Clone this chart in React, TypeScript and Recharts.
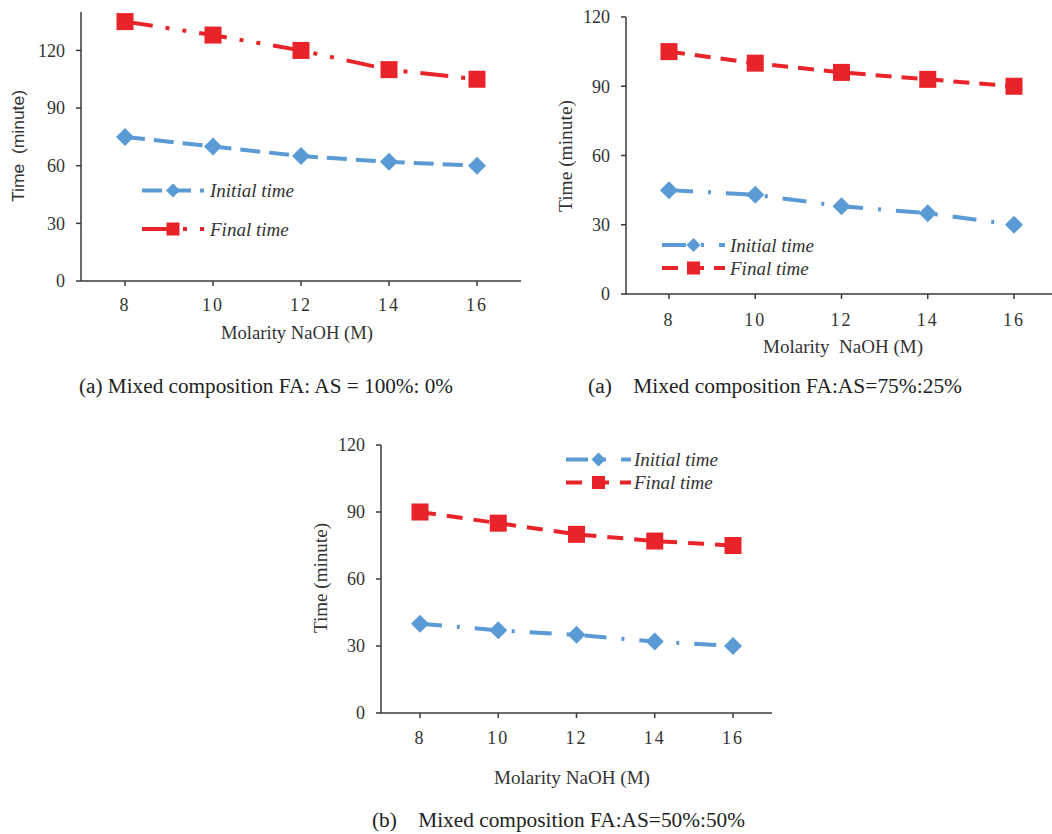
import React from "react";
import { LineChart, Line, XAxis, YAxis } from "recharts";

const molarity = [8, 10, 12, 14, 16];

// (a) FA:AS = 100%:0%
const initialA = [75, 70, 65, 62, 60];
const finalA = [135, 128, 120, 110, 105];

// (a) FA:AS = 75%:25%
const initialB = [45, 43, 38, 35, 30];
const finalB = [105, 100, 96, 93, 90];

// (b) FA:AS = 50%:50%
const initialC = [40, 37, 35, 32, 30];
const finalC = [90, 85, 80, 77, 75];

const yTicks = [0, 30, 60, 90, 120];

const BLUE = "#5B9BD5";
const RED = "#E8232A";
const SERIF = "Liberation Serif, Times New Roman, serif";
const SANS = "Liberation Sans, Arial, sans-serif";
const AXIS = "#3a3a3a";

function makeRows(initial: number[], final: number[]) {
  return molarity.map((m, i) => ({ m, initial: initial[i], final: final[i] }));
}

function diamondDot(r: number) {
  return (props: any) => {
    const { cx, cy, index } = props;
    if (cx == null || cy == null) return <g key={`d${index}`} />;
    return (
      <path
        key={`d${index}`}
        d={`M${cx},${cy - r}L${cx + r},${cy}L${cx},${cy + r}L${cx - r},${cy}Z`}
        fill={BLUE}
      />
    );
  };
}

function squareDot(s: number) {
  return (props: any) => {
    const { cx, cy, index } = props;
    if (cx == null || cy == null) return <g key={`s${index}`} />;
    return <rect key={`s${index}`} x={cx - s / 2} y={cy - s / 2} width={s} height={s} fill={RED} />;
  };
}

interface PanelProps {
  left: number;
  top: number;
  width: number;
  height: number;
  margin: { top: number; right: number; left: number; bottom: number };
  yWidth: number;
  xHeight: number;
  halfBand: number;
  yMax: number;
  xTickMargin: number;
  initial: number[];
  final: number[];
  initialDash: string;
  finalDash: string;
}

function Panel(p: PanelProps) {
  const data = makeRows(p.initial, p.final);
  return (
    <div style={{ position: "absolute", left: p.left, top: p.top }}>
      <LineChart width={p.width} height={p.height} data={data} margin={p.margin}>
        <XAxis
          dataKey="m"
          type="category"
          height={p.xHeight}
          padding={{ left: p.halfBand, right: p.halfBand }}
          stroke={AXIS}
          strokeWidth={1.5}
          tickSize={5}
          tickMargin={p.xTickMargin}
          tick={{ fontFamily: SERIF, fontSize: 18, fill: "#333", letterSpacing: 2 }}
        />
        <YAxis
          width={p.yWidth}
          domain={[0, p.yMax]}
          ticks={yTicks}
          type="number"
          allowDataOverflow
          stroke={AXIS}
          strokeWidth={1.5}
          tickSize={5}
          tickMargin={11}
          tick={{ fontFamily: SERIF, fontSize: 18, fill: "#333" }}
        />
        <Line
          dataKey="initial"
          stroke={BLUE}
          strokeWidth={4}
          strokeDasharray={p.initialDash}
          dot={diamondDot(9)}
          isAnimationActive={false}
        />
        <Line
          dataKey="final"
          stroke={RED}
          strokeWidth={4}
          strokeDasharray={p.finalDash}
          dot={squareDot(17)}
          isAnimationActive={false}
        />
      </LineChart>
    </div>
  );
}

function LegendRow({ x0, x1, y, tx, color, dash, marker, label }: any) {
  const mx = (x0 + x1) / 2;
  return (
    <g>
      <line x1={x0} y1={y} x2={x1} y2={y} stroke={color} strokeWidth={4} strokeDasharray={dash} />
      {marker === "diamond" ? (
        <path d={`M${mx},${y - 7}L${mx + 7},${y}L${mx},${y + 7}L${mx - 7},${y}Z`} fill={color} />
      ) : (
        <rect x={mx - 6.5} y={y - 6.5} width={13} height={13} fill={color} />
      )}
      <text
        x={tx}
        y={y}
        dominantBaseline="central"
        fontFamily={SERIF}
        fontStyle="italic"
        fontSize={19}
        fill="#333"
      >
        {label}
      </text>
    </g>
  );
}

const dashA_init = "20 9";
const dashA_final = "28 13 4 13 4 13";
const dashB_init = "24 15 3 15";
const dashB_final = "16 10";
const dashC_init = "22 15 3 15";
const dashC_final = "16 11";

export default function App() {
  return (
    <div
      style={{
        position: "absolute",
        left: 0,
        top: 0,
        width: 1052,
        height: 834,
        background: "#fff",
        overflow: "hidden",
      }}
    >
      <Panel
        left={0}
        top={0}
        width={530}
        height={330}
        margin={{ top: 12, right: 9, left: 0, bottom: 0 }}
        yWidth={81}
        xHeight={49}
        halfBand={44}
        yMax={140}
        xTickMargin={12}
        initial={initialA}
        final={finalA}
        initialDash={dashA_init}
        finalDash={dashA_final}
      />
      <Panel
        left={540}
        top={0}
        width={530}
        height={340}
        margin={{ top: 17, right: 13, left: 0, bottom: 0 }}
        yWidth={86}
        xHeight={46}
        halfBand={43}
        yMax={120}
        xTickMargin={14}
        initial={initialB}
        final={finalB}
        initialDash={dashB_init}
        finalDash={dashB_final}
      />
      <Panel
        left={290}
        top={430}
        width={500}
        height={320}
        margin={{ top: 15, right: 18, left: 0, bottom: 0 }}
        yWidth={91}
        xHeight={37}
        halfBand={39}
        yMax={120}
        xTickMargin={13}
        initial={initialC}
        final={finalC}
        initialDash={dashC_init}
        finalDash={dashC_final}
      />

      <svg
        width={1052}
        height={834}
        style={{ position: "absolute", left: 0, top: 0, pointerEvents: "none" }}
      >
        {/* panel 1 titles */}
        <text
          x={0}
          y={0}
          transform="translate(18.5,146) rotate(-90)"
          textAnchor="middle"
          dominantBaseline="central"
          fontFamily={SANS}
          fontSize={17}
          fill="#333"
          xmlSpace="preserve"
          textLength={112}
          lengthAdjust="spacingAndGlyphs"
        >
          Time  (minute)
        </text>
        <text x={221} y={333} dominantBaseline="central" fontFamily={SERIF} fontSize={18}
          fill="#333" textLength={152} lengthAdjust="spacingAndGlyphs">
          Molarity NaOH (M)
        </text>
        <text x={79} y={386} dominantBaseline="central" fontFamily={SERIF} fontSize={20}
          fill="#222" textLength={374} lengthAdjust="spacingAndGlyphs">
          (a) Mixed composition FA: AS = 100%: 0%
        </text>
        <LegendRow x0={142} x1={204} y={190.5} tx={210} color={BLUE} dash={dashA_init}
          marker="diamond" label="Initial time" />
        <LegendRow x0={142} x1={204} y={229} tx={210} color={RED} dash={dashA_final}
          marker="square" label="Final time" />

        {/* panel 2 titles */}
        <text
          x={0}
          y={0}
          transform="translate(565,156) rotate(-90)"
          textAnchor="middle"
          dominantBaseline="central"
          fontFamily={SERIF}
          fontSize={19}
          fill="#333"
          textLength={112}
          lengthAdjust="spacingAndGlyphs"
        >
          Time (minute)
        </text>
        <text x={763} y={347} dominantBaseline="central" fontFamily={SERIF} fontSize={18}
          fill="#333" textLength={160} lengthAdjust="spacingAndGlyphs" xmlSpace="preserve">
          Molarity  NaOH (M)
        </text>
        <text x={588} y={386} dominantBaseline="central" fontFamily={SERIF} fontSize={20}
          fill="#222" textLength={374} lengthAdjust="spacingAndGlyphs" xmlSpace="preserve">
          (a)    Mixed composition FA:AS=75%:25%
        </text>
        <LegendRow x0={662} x1={725} y={245} tx={730} color={BLUE} dash={dashB_init}
          marker="diamond" label="Initial time" />
        <LegendRow x0={662} x1={725} y={268} tx={730} color={RED} dash={dashB_final}
          marker="square" label="Final time" />

        {/* panel 3 titles */}
        <text
          x={0}
          y={0}
          transform="translate(320,578) rotate(-90)"
          textAnchor="middle"
          dominantBaseline="central"
          fontFamily={SERIF}
          fontSize={19}
          fill="#333"
          textLength={110}
          lengthAdjust="spacingAndGlyphs"
        >
          Time (minute)
        </text>
        <text x={494} y={778} dominantBaseline="central" fontFamily={SERIF} fontSize={18}
          fill="#333" textLength={156} lengthAdjust="spacingAndGlyphs">
          Molarity NaOH (M)
        </text>
        <text x={372} y={820} dominantBaseline="central" fontFamily={SERIF} fontSize={20}
          fill="#222" textLength={373} lengthAdjust="spacingAndGlyphs" xmlSpace="preserve">
          (b)    Mixed composition FA:AS=50%:50%
        </text>
        <LegendRow x0={566} x1={631} y={459.5} tx={634} color={BLUE} dash={dashC_init}
          marker="diamond" label="Initial time" />
        <LegendRow x0={566} x1={631} y={482.5} tx={634} color={RED} dash={dashC_final}
          marker="square" label="Final time" />
      </svg>
    </div>
  );
}
